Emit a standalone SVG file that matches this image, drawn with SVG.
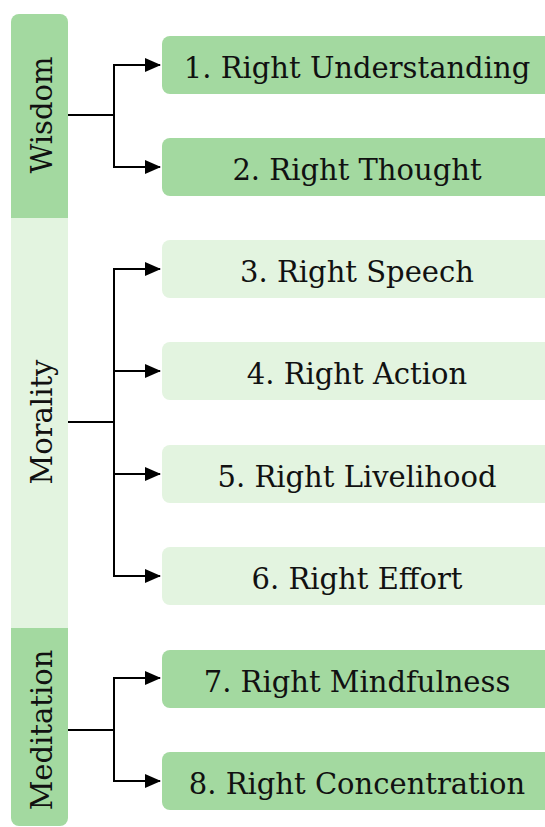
<svg xmlns="http://www.w3.org/2000/svg" width="545" height="827" viewBox="0 0 545 827">
<defs>
<style>
.dk{fill:#a3d9a0}
.lt{fill:#e3f4e0}
.c{fill:none;stroke:#000;stroke-width:2}
</style>
<marker id="ah" markerWidth="16" markerHeight="14" refX="15" refY="7" orient="auto" markerUnits="userSpaceOnUse" viewBox="0 0 16 14">
<path d="M0,0 L16,7 L0,14 Z" fill="#000"/>
</marker>
</defs>
<g font-family="DejaVu Serif" font-size="29" fill="#111" text-anchor="middle">
<g id="wisdom">
<path class="dk" d="M11,22 a8,8 0 0 1 8,-8 h41 a8,8 0 0 1 8,8 v196 h-57 Z"/>
<text transform="translate(52,115) rotate(-90)">Wisdom</text>
</g>
<g id="morality">
<rect class="lt" x="11" y="218" width="57" height="410"/>
<text transform="translate(52,422) rotate(-90)">Morality</text>
</g>
<g id="meditation">
<path class="dk" d="M11,628 h57 v190 a8,8 0 0 1 -8,8 h-41 a8,8 0 0 1 -8,-8 Z"/>
<text transform="translate(52,730) rotate(-90)">Meditation</text>
</g>
<g id="n1"><rect class="dk" x="162" y="36" width="400" height="58" rx="8"/><text x="357" y="78">1. Right Understanding</text></g>
<g id="n2"><rect class="dk" x="162" y="138" width="400" height="58" rx="8"/><text x="357" y="180">2. Right Thought</text></g>
<g id="n3"><rect class="lt" x="162" y="240" width="400" height="58" rx="8"/><text x="357" y="282">3. Right Speech</text></g>
<g id="n4"><rect class="lt" x="162" y="342" width="400" height="58" rx="8"/><text x="357" y="384">4. Right Action</text></g>
<g id="n5"><rect class="lt" x="162" y="445" width="400" height="58" rx="8"/><text x="357" y="487">5. Right Livelihood</text></g>
<g id="n6"><rect class="lt" x="162" y="547" width="400" height="58" rx="8"/><text x="357" y="589">6. Right Effort</text></g>
<g id="n7"><rect class="dk" x="162" y="650" width="400" height="58" rx="8"/><text x="357" y="692">7. Right Mindfulness</text></g>
<g id="n8"><rect class="dk" x="162" y="752" width="400" height="58" rx="8"/><text x="357" y="794">8. Right Concentration</text></g>
</g>
<g id="connectors">
<path class="c" stroke-width="3" d="M68,115 H114"/>
<path class="c" d="M114,115 V65 H160" marker-end="url(#ah)"/>
<path class="c" d="M114,115 V167 H160" marker-end="url(#ah)"/>
<path class="c" d="M68,422 H114"/>
<path class="c" d="M114,422 V269 H160" marker-end="url(#ah)"/>
<path class="c" d="M114,422 V371 H160" marker-end="url(#ah)"/>
<path class="c" d="M114,422 V474 H160" marker-end="url(#ah)"/>
<path class="c" d="M114,422 V576 H160" marker-end="url(#ah)"/>
<path class="c" d="M68,730 H114"/>
<path class="c" d="M114,730 V678 H160" marker-end="url(#ah)"/>
<path class="c" d="M114,730 V781 H160" marker-end="url(#ah)"/>
</g>
</svg>
